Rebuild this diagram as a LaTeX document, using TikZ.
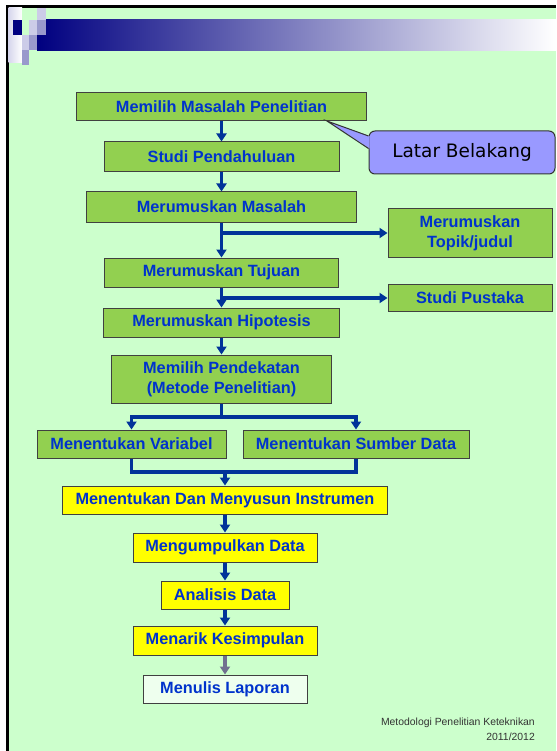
\documentclass[tikz,border=0pt]{standalone}
\usepackage{fontspec}
\setmainfont{Liberation Sans}
\newfontfamily\balonfont{DejaVu Sans}
\usetikzlibrary{arrows.meta}
\definecolor{latarhijau}{HTML}{CCFFCC}
\definecolor{kotakhijau}{HTML}{92D050}
\definecolor{kotakkuning}{HTML}{FFFF00}
\definecolor{teksbiru}{HTML}{0033CC}
\definecolor{panahbiru}{HTML}{003399}
\definecolor{panahabu}{HTML}{707090}
\definecolor{balonungu}{HTML}{9999FF}
\definecolor{laporanisi}{HTML}{EEFFEE}
\definecolor{ungumuda}{HTML}{CCCCE8}
\definecolor{ungutengah}{HTML}{9999CC}
\definecolor{birutua}{HTML}{000080}
\begin{document}
\begin{tikzpicture}[x=1pt,y=-1pt,
    kotak/.style={draw=black!75,line width=1pt,fill=kotakhijau,text=teksbiru,
      font=\fontsize{16.3}{20}\selectfont\bfseries,inner sep=0pt,align=center},
    kuning/.style={kotak,fill=kotakkuning},
    garis/.style={draw=panahbiru,line width=3.3pt},
    panah/.style={garis,-{Triangle[width=10pt,length=8pt]}}]
  \useasboundingbox (0,0) rectangle (556,751);
  \fill[white] (0,0) rectangle (556,751);
  \fill[latarhijau] (8,8) rectangle (556,751);
  \fill[black] (6,5) rectangle (556,8);
  \fill[black] (6,5) rectangle (8.5,751);
  \shade[left color=birutua,right color=white] (37,20) rectangle (556,51);
  \shade[left color=ungumuda!80,right color=white] (8.5,8) rectangle (22,63);
  \fill[birutua] (13,20) rectangle (22,35);
  \fill[latarhijau] (22,8) rectangle (37,20);
  \fill[latarhijau] (22,20) rectangle (29,35);
  \fill[ungumuda] (37,8) rectangle (46,20);
  \fill[ungumuda] (29,20) rectangle (37,35);
  \fill[ungutengah] (37,20) rectangle (46,35);
  \fill[ungumuda] (22,35) rectangle (29,50);
  \fill[ungutengah] (29,35) rectangle (37,50);
  \fill[ungutengah] (22,50) rectangle (29,65);
  \path
    (221.5,107) node[kotak,minimum width=290pt,minimum height=28pt] (pilih){Memilih Masalah Penelitian}
    (221.5,157) node[kotak,minimum width=235pt,minimum height=30pt] (studi){Studi Pendahuluan}
    (221.5,207) node[kotak,minimum width=270pt,minimum height=30pt] (masalah){Merumuskan Masalah}
    (470,233) node[kotak,minimum width=164pt,minimum height=48pt] (topik){Merumuskan\\Topik/judul}
    (221.5,272.5) node[kotak,minimum width=234pt,minimum height=29pt] (tujuan){Merumuskan Tujuan}
    (470,298) node[kotak,minimum width=164pt,minimum height=27pt] (pustaka){Studi Pustaka}
    (221.5,322.5) node[kotak,minimum width=236pt,minimum height=29pt] (hipotesis){Merumuskan Hipotesis}
    (221.5,379) node[kotak,minimum width=220pt,minimum height=48pt] (metode){Memilih Pendekatan\\(Metode Penelitian)}
    (131.5,444) node[kotak,minimum width=189pt,minimum height=28pt] (variabel){Menentukan Variabel}
    (356,444) node[kotak,minimum width=226pt,minimum height=28pt] (sumber){Menentukan Sumber Data}
    (225,500) node[kuning,minimum width=325pt,minimum height=28pt] (instrumen){Menentukan Dan Menyusun Instrumen}
    (225,547.5) node[kuning,minimum width=184pt,minimum height=29pt] (kumpul){Mengumpulkan Data}
    (225,595) node[kuning,minimum width=128pt,minimum height=28pt] (analisis){Analisis Data}
    (225,640.5) node[kuning,minimum width=184pt,minimum height=29pt] (simpul){Menarik Kesimpulan}
    (225,689) node[kotak,fill=laporanisi,minimum width=164pt,minimum height=28pt] (laporan){Menulis Laporan}
    (462,152.5) node[draw=black!80,line width=1pt,fill=balonungu,rounded corners=6pt,
      minimum width=186pt,minimum height=43pt,font=\balonfont\fontsize{18.5}{22}\selectfont] (latar){Latar Belakang}
    (535,718) node[anchor=north east,align=right,inner sep=0pt,text=black!80,
      font=\fontsize{10.4}{15}\selectfont] (kaki){Metodologi Penelitian Keteknikan\\2011/2012};
  \coordinate (ujung) at (327,121);
  \coordinate (pisah) at (221.5,417);
  \coordinate (gabung) at (225,472);
  \fill[balonungu] (ujung) -- ([yshift=16.5pt,xshift=1pt]latar.west) -- ([yshift=4pt,xshift=1pt]latar.west) -- cycle;
  \draw[black!80,line width=1pt] ([yshift=16.5pt]latar.west) -- (ujung) -- ([yshift=4pt]latar.west);
  \begin{scope}[panah]
    \draw (pilih) to (studi);
    \draw (studi) to (masalah);
    \draw (masalah) to (tujuan);
    \draw (masalah.south |- topik.west) to (topik.west);
    \draw (tujuan) to (hipotesis);
    \draw (tujuan.south |- pustaka.west) to (pustaka.west);
    \draw (hipotesis) to (metode);
    \draw[-] (metode) to (pisah);
    \draw (pisah) -| (variabel);
    \draw (pisah) -| (sumber);
    \draw[-] (variabel) |- (gabung);
    \draw[-] (sumber) |- (gabung);
    \draw (gabung) to (instrumen);
    \draw (instrumen) to (kumpul);
    \draw (kumpul) to (analisis);
    \draw (analisis) to (simpul);
    \draw[draw=panahabu] (simpul) to (laporan);
  \end{scope}
\end{tikzpicture}
\end{document}
